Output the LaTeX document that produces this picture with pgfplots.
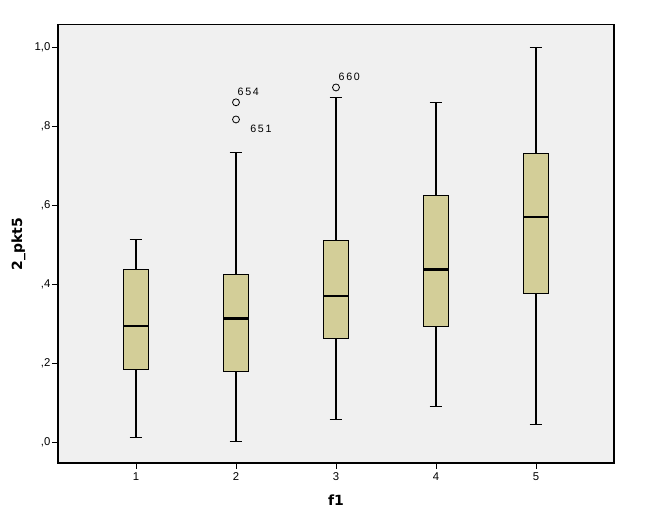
\documentclass[border=0pt]{standalone}
\usepackage{pgfplots}
\pgfplotsset{compat=1.18}
\usepgfplotslibrary{statistics}
\usepackage{fontspec}
\setmainfont{DejaVu Sans}
\newfontfamily\lib{Liberation Sans}
\definecolor{boxfill}{RGB}{211,206,152}
\definecolor{bg}{RGB}{240,240,240}
\begin{document}
\begin{tikzpicture}
\path[use as bounding box, fill=white] (-43.5pt,-45.75pt) rectangle (441.75pt,347.25pt);
\begin{axis}[
  at={(0pt,0pt)}, anchor=south west,
  scale only axis, width=417pt, height=328.7pt,
  xmin=0.22, xmax=5.78, ymin=-0.0515, ymax=1.0573,
  axis background/.style={fill=bg},
  axis line style={line width=0.8pt},
  tick align=outside, major tick length=4.5pt,
  tick style={black, line width=0.7pt},
  xtick={1,2,3,4,5}, xticklabels={1,2,3,4,5},
  ytick={0,0.2,0.4,0.6,0.8,1.0},
  yticklabels={{,0},{,2},{,4},{,6},{,8},{1,0}},
  xtick pos=bottom, ytick pos=left,
  yticklabel style={font=\lib\fontsize{8.5}{9}\selectfont, anchor=east, inner sep=0pt, xshift=-1pt},
  xticklabel style={font=\lib\fontsize{8.5}{9}\selectfont, anchor=north, inner sep=0pt, yshift=-2.5pt},
  xlabel={\bfseries f1}, ylabel={\bfseries 2\_pkt5},
  label style={font=\fontsize{10.5}{12}\selectfont},
  xlabel style={at={(axis description cs:0.5,0)}, anchor=center, yshift=-27.75pt},
  ylabel style={at={(axis description cs:0,0.5)}, anchor=center, rotate=0, xshift=0pt, yshift=29.6pt},
  boxplot/draw direction=y,
  boxplot/box extend=0.25,
  boxplot/whisker extend=0.127,
  boxplot/every box/.style={fill=boxfill, draw=black, line width=0.6pt},
  boxplot/every median/.style={line width=1.7pt},
  boxplot/every whisker/.style={line width=0.8pt},
  clip=false,
]
\addplot[draw=black, mark=o, mark size=2.6pt, mark options={line width=0.6pt}, boxplot prepared={draw position=1, lower whisker=0.0127, lower quartile=0.186, median=0.296, upper quartile=0.4375, upper whisker=0.514}] coordinates {};
\addplot[draw=black, mark=o, mark size=2.6pt, mark options={line width=0.6pt}, boxplot prepared={draw position=2, lower whisker=0.0018, lower quartile=0.179, median=0.314, upper quartile=0.4256, upper whisker=0.733}] coordinates {(0,0.861) (0,0.8176)};
\addplot[draw=black, mark=o, mark size=2.6pt, mark options={line width=0.6pt}, boxplot prepared={draw position=3, lower whisker=0.0575, lower quartile=0.2627, median=0.3717, upper quartile=0.5118, upper whisker=0.874}] coordinates {(0,0.8986)};
\addplot[draw=black, mark=o, mark size=2.6pt, mark options={line width=0.6pt}, boxplot prepared={draw position=4, lower whisker=0.0904, lower quartile=0.2947, median=0.4383, upper quartile=0.6258, upper whisker=0.8613}] coordinates {};
\addplot[draw=black, mark=o, mark size=2.6pt, mark options={line width=0.6pt}, boxplot prepared={draw position=5, lower whisker=0.0456, lower quartile=0.3783, median=0.5708, upper quartile=0.7305, upper whisker=1.0}] coordinates {};
\node[anchor=west, inner sep=0pt, font=\lib\fontsize{8}{9}\selectfont] at (axis cs:2.013,0.8876) {6\,5\,4};
\node[anchor=west, inner sep=0pt, font=\lib\fontsize{8}{9}\selectfont] at (axis cs:2.14,0.793) {6\,5\,1};
\node[anchor=west, inner sep=0pt, font=\lib\fontsize{8}{9}\selectfont] at (axis cs:3.023,0.9266) {6\,6\,0};
\end{axis}
\end{tikzpicture}
\end{document}
